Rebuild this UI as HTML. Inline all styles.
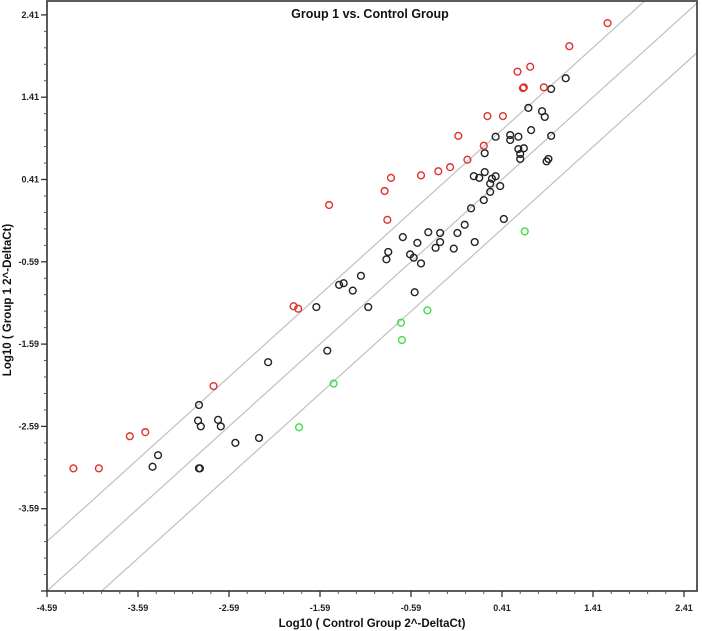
<!DOCTYPE html>
<html><head><meta charset="utf-8"><style>
body{margin:0;background:#fff;}
svg{display:block;font-family:"Liberation Sans",sans-serif;}
</style></head><body>
<svg id="chart" width="702" height="631" viewBox="0 0 702 631" xmlns="http://www.w3.org/2000/svg">
<defs><clipPath id="pc"><rect x="47" y="1" width="650" height="590"/></clipPath></defs>
<rect x="0" y="0" width="702" height="631" fill="#fff"/>
<text x="370" y="18" text-anchor="middle" font-size="12.5" font-weight="bold" fill="#111">Group 1 vs. Control Group</text>
<text x="372" y="627" text-anchor="middle" font-size="11.5" font-weight="bold" fill="#111">Log10 ( Control Group 2^-DeltaCt)</text>
<text transform="translate(11,300) rotate(-90)" text-anchor="middle" font-size="11.5" font-weight="bold" fill="#111">Log10 ( Group 1 2^-DeltaCt)</text>
<g id="lines" clip-path="url(#pc)"></g>
<g id="axes"></g>
<g id="points"></g>
</svg>
<script>
const tickValues = [-4.59,-3.59,-2.59,-1.59,-0.59,0.41,1.41,2.41];
const tickLabels = ["-4.59","-3.59","-2.59","-1.59","-0.59","0.41","1.41","2.41"];
const foldOffsets = [0.602, 0, -0.602];
const redX = [1.57,1.15,0.58,0.72,0.65,0.64,0.87,0.25,0.42,-0.07,0.21,0.03,-0.16,-0.29,-0.48,-0.81,-0.88,-0.85,-1.49,-1.88,-1.83,-2.76,-3.68,-3.51,-4.30,-4.02];
const redY = [2.31,2.03,1.72,1.78,1.53,1.52,1.53,1.18,1.18,0.94,0.82,0.65,0.56,0.51,0.46,0.43,0.27,-0.08,0.10,-1.13,-1.16,-2.10,-2.71,-2.66,-3.10,-3.10];
const blackX = [1.11,0.95,0.70,0.85,0.88,0.34,0.50,0.50,0.59,0.73,0.95,0.22,0.59,0.65,0.61,0.61,0.92,0.90,0.22,0.10,0.16,0.34,0.30,0.28,0.39,0.28,0.21,0.07,0.43,0.00,-0.08,-0.27,-0.40,-0.68,-0.52,-0.84,-0.86,-0.60,-0.56,-0.48,-0.27,-0.32,-0.12,0.11,-1.14,-1.33,-1.38,-1.23,-1.63,-1.06,-0.55,-1.51,-2.16,-2.92,-2.93,-2.90,-2.71,-2.68,-2.52,-2.26,-3.37,-3.43,-2.92,-2.91];
const blackY = [1.64,1.51,1.28,1.24,1.17,0.93,0.95,0.89,0.93,1.01,0.94,0.73,0.78,0.79,0.72,0.66,0.66,0.63,0.50,0.45,0.43,0.45,0.42,0.36,0.33,0.26,0.16,0.06,-0.07,-0.14,-0.24,-0.24,-0.23,-0.29,-0.36,-0.47,-0.56,-0.50,-0.54,-0.61,-0.35,-0.42,-0.43,-0.35,-0.76,-0.85,-0.87,-0.94,-1.14,-1.14,-0.96,-1.67,-1.81,-2.33,-2.52,-2.59,-2.51,-2.59,-2.79,-2.73,-2.94,-3.08,-3.10,-3.10];
const greenX = [0.66,-0.41,-0.70,-0.69,-1.44,-1.82];
const greenY = [-0.22,-1.18,-1.33,-1.54,-2.07,-2.60];

const X0=47, Y0=591, SX=91, SY=82.3, XMIN=-4.59, YMIN=-4.59;
const xMax = XMIN + 650/SX, yMax = YMIN + 590/SY;
function sx(v){return X0+(v-XMIN)*SX;}
function sy(v){return Y0-(v-YMIN)*SY;}
const NS="http://www.w3.org/2000/svg";
function mk(tag,attrs,parent){const e=document.createElementNS(NS,tag);for(const k in attrs)e.setAttribute(k,attrs[k]);parent.appendChild(e);return e;}

const lines=document.getElementById('lines');
foldOffsets.forEach(function(c){
  const l=mk('line',{x1:sx(XMIN),y1:sy(XMIN+c),x2:sx(xMax+1),y2:sy(xMax+1+c),stroke:'#c4c4c4','stroke-width':1.3},lines);
  
  
});

const axes=document.getElementById('axes');
const frame=mk('rect',{x:47,y:1,width:650,height:590,fill:'none',stroke:'#333','stroke-width':1.6},axes);


tickValues.forEach(function(v,i){
  const tx=mk('line',{x1:sx(v),y1:Y0,x2:sx(v),y2:Y0+6,stroke:'#333','stroke-width':1.3},axes);
  
  
  const lx=mk('text',{x:sx(v),y:Y0+20,'text-anchor':'middle','font-size':9,'font-weight':'bold',fill:'#222'},axes);
  lx.textContent=tickLabels[i];
  
  
  const ty=mk('line',{x1:X0-6,y1:sy(v),x2:X0,y2:sy(v),stroke:'#333','stroke-width':1.3},axes);
  
  
  if(i>0){
    const ly=mk('text',{x:X0-8,y:sy(v)+3,'text-anchor':'end','font-size':9,'font-weight':'bold',fill:'#222'},axes);
    ly.textContent=tickLabels[i];
    
    
  }
  for(let k=1;k<5;k++){
    const m=v+k*0.2;
    if(m<=xMax){
      const mx=mk('line',{x1:sx(m),y1:Y0,x2:sx(m),y2:Y0+3,stroke:'#555','stroke-width':1},axes);
      
      
    }
    if(m<=yMax){
      const my=mk('line',{x1:X0-3,y1:sy(m),x2:X0,y2:sy(m),stroke:'#555','stroke-width':1},axes);
      
      
    }
  }
});

const pts=document.getElementById('points');
function drawSeries(xs,ys,color,name){
  xs.forEach(function(x,i){
    const c=mk('circle',{cx:sx(x),cy:sy(ys[i]),r:3.4,fill:'none',stroke:color,'stroke-width':1.4},pts);
    
    
  });
}
drawSeries(blackX,blackY,'#222','point-unchanged');
drawSeries(redX,redY,'#e03030','point-upregulated');
drawSeries(greenX,greenY,'#44dd44','point-downregulated');
</script>
</body></html>
